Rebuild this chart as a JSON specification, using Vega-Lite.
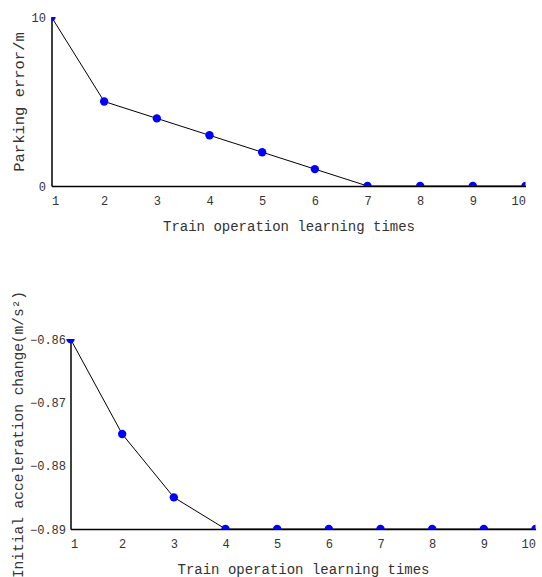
{
  "$schema": "https://vega.github.io/schema/vega-lite/v6.json",
  "padding": {"top": 11, "left": 10.5, "right": 0, "bottom": 0},
  "background": "white",
  "config": {
    "font": "Liberation Mono",
    "view": {"stroke": null},
    "axis": {
      "labelFont": "Liberation Mono",
      "titleFont": "Liberation Mono",
      "labelFontSize": 12,
      "titleFontSize": 14,
      "titleFontWeight": "normal",
      "labelColor": "#333",
      "titleColor": "#333",
      "domainColor": "#000",
      "domainWidth": 1.5,
      "ticks": false,
      "grid": false,
      "labelPadding": 5
    },
    "axisX": {"labelPadding": 9, "titlePadding": 13}
  },
  "spacing": 57,
  "datasets": {
    "top": [
      {"t": 1, "v": 10}, {"t": 2, "v": 5}, {"t": 3, "v": 4}, {"t": 4, "v": 3}, {"t": 5, "v": 2},
      {"t": 6, "v": 1}, {"t": 7, "v": 0}, {"t": 8, "v": 0}, {"t": 9, "v": 0}, {"t": 10, "v": 0}
    ],
    "bottom": [
      {"t": 1, "v": -0.86}, {"t": 2, "v": -0.875}, {"t": 3, "v": -0.885}, {"t": 4, "v": -0.89}, {"t": 5, "v": -0.89},
      {"t": 6, "v": -0.89}, {"t": 7, "v": -0.89}, {"t": 8, "v": -0.89}, {"t": 9, "v": -0.89}, {"t": 10, "v": -0.89}
    ]
  },
  "vconcat": [
    {
      "width": 474,
      "height": 169,
      "data": {"name": "top"},
      "encoding": {
        "x": {"field": "t", "type": "quantitative", "scale": {"domain": [1, 10], "nice": false},
              "axis": {"title": "Train operation learning times", "values": [1,2,3,4,5,6,7,8,9,10]}},
        "y": {"field": "v", "type": "quantitative", "scale": {"domain": [0, 10], "nice": false},
              "axis": {"title": "Parking error/m", "values": [0, 10], "titlePadding": 5, "labelPadding": 6, "titleFontSize": 15.5}}
      },
      "layer": [
        {"mark": {"type": "line", "color": "#000", "strokeWidth": 1, "clip": true}},
        {"mark": {"type": "circle", "color": "#0000ff", "opacity": 1, "size": 70, "clip": true}}
      ]
    },
    {
      "width": 484,
      "height": 190,
      "data": {"name": "bottom"},
      "encoding": {
        "x": {"field": "t", "type": "quantitative", "scale": {"domain": [1, 10], "nice": false, "range": [19, 484]},
              "axis": {"title": "Train operation learning times", "values": [1,2,3,4,5,6,7,8,9,10]}},
        "y": {"field": "v", "type": "quantitative", "scale": {"domain": [-0.89, -0.86], "nice": false, "zero": false},
              "axis": {"title": "Initial acceleration change(m/s²)", "values": [-0.89, -0.88, -0.87, -0.86], "format": ".2f", "titlePadding": 3.5, "titleFontSize": 14.5, "offset": -19}}
      },
      "layer": [
        {"mark": {"type": "line", "color": "#000", "strokeWidth": 1, "clip": true}},
        {"mark": {"type": "circle", "color": "#0000ff", "opacity": 1, "size": 70, "clip": true}}
      ]
    }
  ]
}
